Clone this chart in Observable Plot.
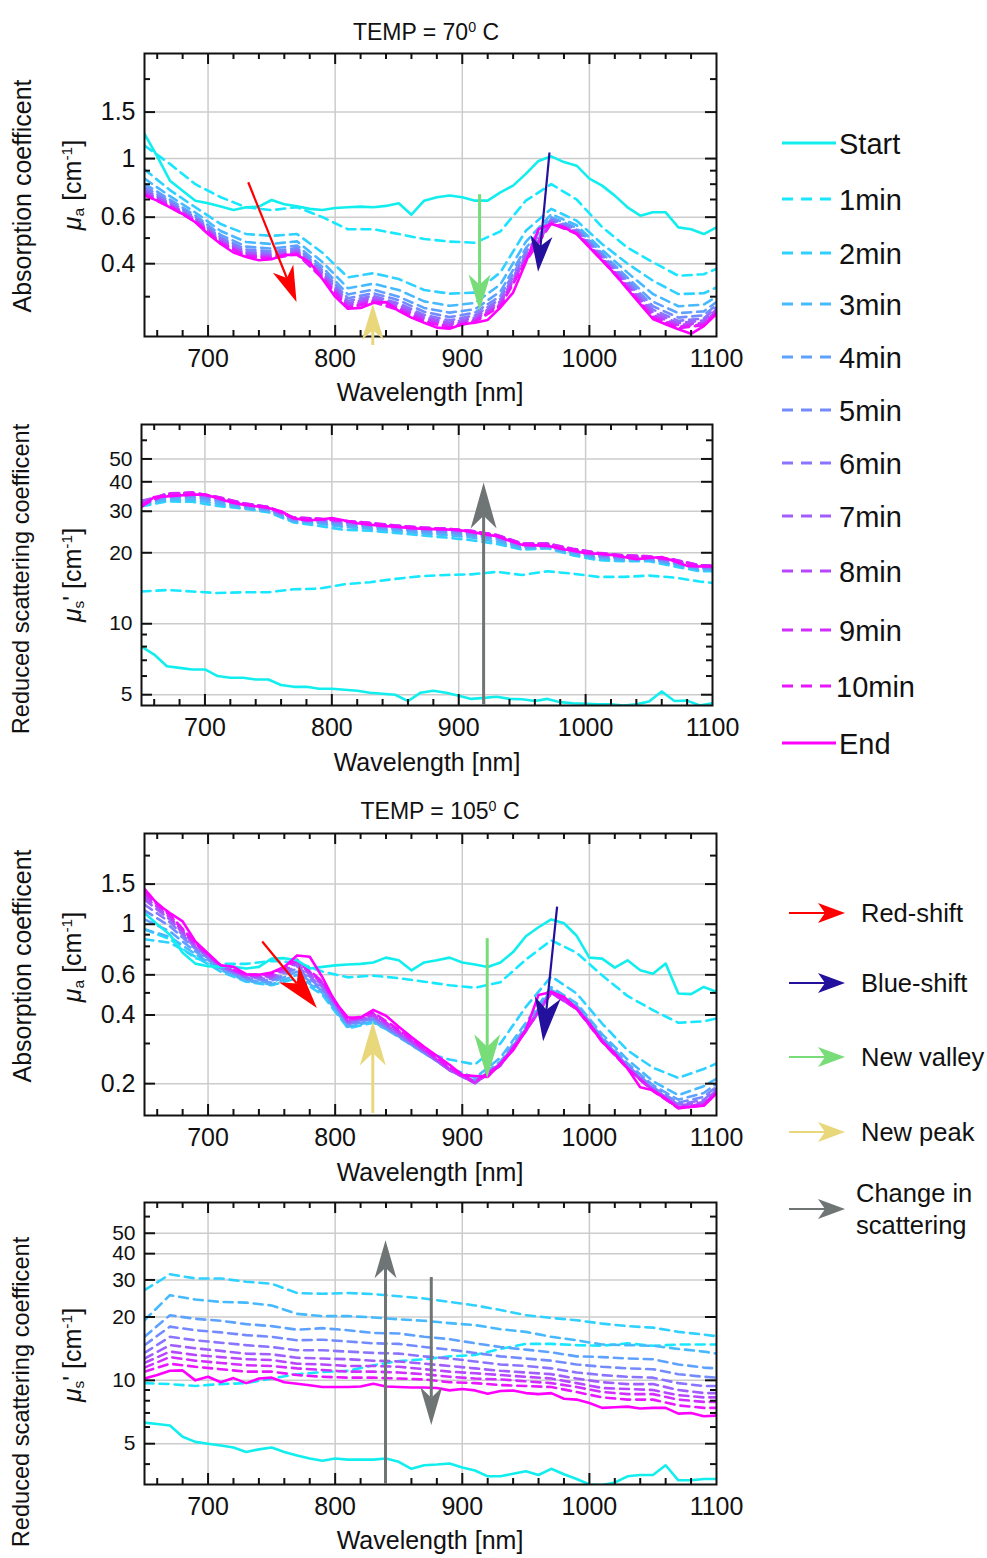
<!DOCTYPE html>
<html><head><meta charset="utf-8">
<script src="https://cdn.jsdelivr.net/npm/d3@7"></script>
<script src="https://cdn.jsdelivr.net/npm/@observablehq/plot@0.6"></script>
<style>
body{margin:0;background:#fff;font-family:Arial,"Liberation Sans",sans-serif;}
#root{position:relative;width:987px;height:1558px;overflow:hidden;background:#fff;}
.abs{position:absolute;white-space:nowrap;color:#111;line-height:1;}
.ctr{transform:translate(-50%,-50%);}
.rot{transform:translate(-50%,-50%) rotate(-90deg);}
.vc{transform:translateY(-50%);}
sup{font-size:62%;vertical-align:0.55em;line-height:0;}
sub{font-size:62%;vertical-align:-0.25em;line-height:0;}
</style></head><body><div id="root"></div>
<script>
// ---------------- data ----------------
const wlFine = [650,660,670,680,690,700,710,720,730,740,750,760,770,780,790,800,810,820,830,840,850,860,870,880,890,900,910,920,930,940,950,960,970,980,990,1000,1010,1020,1030,1040,1050,1060,1070,1080,1090,1100];
const wlCoarse = [650,670,690,710,730,750,770,790,810,830,850,870,890,910,930,950,970,990,1010,1030,1050,1070,1090,1100];
const seriesNames = ["Start","1min","2min","3min","4min","5min","6min","7min","8min","9min","10min","End"];
const seriesColors = ["#12eeee","#17e8ff","#2ed1ff","#46b9ff","#5da2ff","#748bff","#8b74ff","#a25dff","#b946ff","#d12eff","#e817ff","#ff00ff"];
const xTickLabels = [700,800,900,1000,1100];
const xGrid = [700,800,900,1000];
const xMinor = [660,680,720,740,760,780,820,840,860,880,920,940,960,980,1020,1040,1060,1080];

// Panel 1: absorption, 70 C
const abs70YTicks = [0.4,0.6,1,1.5];
const abs70YMinor = [0.3,0.5,0.7,0.8,0.9,2];
const abs70Start = [1.24,1.02,0.825,0.756,0.693,0.677,0.658,0.639,0.654,0.658,0.697,0.672,0.66,0.645,0.639,0.65,0.654,0.658,0.654,0.662,0.677,0.613,0.693,0.714,0.725,0.714,0.693,0.693,0.745,0.79,0.875,0.98,1.02,0.97,0.94,0.84,0.79,0.724,0.654,0.608,0.626,0.626,0.549,0.54,0.518,0.549];
const abs70End = [0.724,0.693,0.654,0.617,0.574,0.518,0.475,0.441,0.424,0.412,0.416,0.432,0.432,0.405,0.35,0.30,0.27,0.272,0.284,0.286,0.265,0.25,0.239,0.229,0.227,0.236,0.239,0.245,0.273,0.311,0.405,0.54,0.565,0.549,0.518,0.461,0.411,0.366,0.32,0.281,0.247,0.236,0.226,0.217,0.232,0.258];
const abs70Dashed = [
 [1.12,0.955,0.80,0.714,0.654,0.638,0.655,0.60,0.54,0.54,0.518,0.496,0.485,0.48,0.53,0.693,0.80,0.70,0.55,0.46,0.405,0.36,0.365,0.382],
 [0.91,0.76,0.654,0.565,0.518,0.51,0.518,0.44,0.355,0.368,0.35,0.318,0.308,0.311,0.371,0.533,0.645,0.582,0.475,0.40,0.345,0.307,0.309,0.325],
 [0.840,0.721,0.625,0.532,0.483,0.475,0.486,0.406,0.323,0.336,0.318,0.288,0.277,0.284,0.334,0.484,0.616,0.559,0.451,0.370,0.307,0.276,0.280,0.300],
 [0.803,0.699,0.609,0.514,0.464,0.456,0.469,0.388,0.306,0.319,0.300,0.272,0.261,0.269,0.314,0.458,0.600,0.546,0.438,0.354,0.287,0.260,0.264,0.286],
 [0.781,0.687,0.600,0.503,0.453,0.445,0.459,0.378,0.296,0.309,0.291,0.263,0.251,0.261,0.302,0.443,0.591,0.538,0.431,0.345,0.276,0.250,0.255,0.279],
 [0.765,0.677,0.592,0.496,0.445,0.437,0.451,0.370,0.289,0.302,0.283,0.256,0.244,0.255,0.294,0.432,0.584,0.533,0.426,0.338,0.268,0.243,0.248,0.273],
 [0.753,0.671,0.587,0.489,0.439,0.430,0.446,0.364,0.283,0.297,0.278,0.251,0.239,0.250,0.288,0.424,0.578,0.528,0.421,0.332,0.262,0.238,0.244,0.268],
 [0.742,0.665,0.583,0.484,0.434,0.425,0.441,0.359,0.278,0.292,0.273,0.247,0.235,0.246,0.283,0.417,0.573,0.524,0.418,0.328,0.256,0.234,0.239,0.265],
 [0.734,0.659,0.579,0.480,0.429,0.421,0.437,0.355,0.274,0.289,0.270,0.243,0.231,0.243,0.279,0.411,0.570,0.521,0.415,0.324,0.252,0.231,0.236,0.262],
 [0.729,0.657,0.577,0.478,0.427,0.418,0.435,0.352,0.272,0.286,0.267,0.241,0.229,0.241,0.276,0.408,0.568,0.520,0.413,0.322,0.249,0.228,0.234,0.260]
];
const abs70Arrows = [
 {kind:"red", x1:732, y1:0.81, x2:770, y2:0.285},
 {kind:"yellow", x1:830, y1:0.196, x2:830, y2:0.28},
 {kind:"green", x1:914, y1:0.73, x2:914, y2:0.265},
 {kind:"blue", x1:969, y1:1.05, x2:960, y2:0.371}
];

// Panel 2: reduced scattering, 70 C
const sca70YTicks = [5,10,20,30,40,50];
const sca70YMinor = [6,7,8,9,60];
const sca70Start = [8.0,7.4,6.6,6.5,6.4,6.4,6.0,5.9,5.9,5.8,5.8,5.5,5.4,5.4,5.3,5.3,5.25,5.2,5.1,5.05,5.0,4.7,5.1,5.2,5.1,4.95,4.8,4.85,4.9,4.8,4.78,4.7,4.8,4.65,4.6,4.58,4.55,4.55,4.5,4.55,4.68,5.16,4.7,4.72,4.5,4.6];
const sca70End = [31.3,34.5,34.7,35.0,35.3,35.3,34.1,32.8,32.0,31.5,31.0,30.0,28.0,27.4,27.6,28.1,27.4,26.7,26.3,26.0,25.8,25.5,25.3,25.2,25.1,25.0,24.5,24.0,23.5,22.5,21.6,21.5,21.4,20.8,20.4,19.9,19.8,19.6,19.2,18.8,19.0,19.2,18.4,17.6,17.5,17.5];
const sca70Dashed = [
 [13.7,13.9,13.7,13.5,13.6,13.6,14.0,14.1,14.7,15.0,15.5,15.9,16.1,16.2,16.6,16.1,16.7,16.3,15.8,15.8,16.0,15.7,15.1,14.9],
 [31.5,33.0,32.9,31.6,30.8,29.7,26.9,26.0,25.0,24.8,24.3,23.7,23.2,22.6,21.8,20.6,20.9,19.5,18.6,18.4,18.4,17.5,16.7,16.7],
 [32.0,33.6,33.6,32.3,31.0,30.0,27.2,26.6,25.7,25.3,24.8,24.2,23.8,23.2,22.3,20.9,21.0,19.8,18.9,18.6,18.6,17.8,16.9,16.9],
 [32.4,34.2,34.4,33.0,31.4,30.3,27.4,26.9,26.2,25.7,25.2,24.6,24.3,23.7,22.8,21.1,21.2,20.0,19.2,18.8,18.8,18.0,17.1,17.1],
 [32.8,34.8,35.0,33.6,31.8,30.6,27.7,27.3,26.6,26.1,25.5,25.0,24.7,24.1,23.2,21.4,21.4,20.2,19.4,19.0,18.9,18.2,17.3,17.2],
 [33.2,35.2,35.5,34.0,32.1,30.9,27.9,27.6,26.9,26.4,25.8,25.3,25.0,24.4,23.5,21.6,21.6,20.4,19.6,19.2,19.1,18.4,17.5,17.4],
 [33.0,35.5,35.8,34.3,32.3,31.2,28.1,27.8,27.2,26.6,26.0,25.5,25.2,24.6,23.7,21.8,21.8,20.6,19.8,19.4,19.2,18.6,17.6,17.5],
 [32.6,35.7,36.0,34.5,32.5,31.3,28.2,27.9,27.3,26.7,26.1,25.6,25.3,24.7,23.8,21.9,21.9,20.7,19.9,19.5,19.3,18.7,17.7,17.6],
 [32.2,35.6,36.0,34.5,32.4,31.3,28.2,27.9,27.3,26.8,26.1,25.6,25.3,24.8,23.8,21.9,21.9,20.8,20.0,19.5,19.3,18.7,17.7,17.6],
 [31.8,35.4,35.9,34.4,32.3,31.2,28.1,27.8,27.3,26.7,26.0,25.5,25.2,24.7,23.7,21.8,21.7,20.7,19.9,19.4,19.2,18.6,17.6,17.6]
];
const sca70Arrows = [
 {kind:"gray", x1:920, y1:4.5, x2:920, y2:39.5}
];

// Panel 3: absorption, 105 C
const abs105YTicks = [0.2,0.4,0.6,1,1.5];
const abs105YMinor = [0.3,0.5,0.7,0.8,0.9,2];
const abs105Start = [1.12,1.0,0.9,0.75,0.672,0.655,0.65,0.65,0.64,0.65,0.707,0.71,0.695,0.64,0.65,0.66,0.666,0.67,0.68,0.714,0.695,0.628,0.68,0.695,0.714,0.68,0.666,0.65,0.68,0.755,0.886,0.97,1.05,1.01,0.89,0.714,0.707,0.645,0.695,0.628,0.607,0.672,0.497,0.494,0.531,0.505];
const abs105End = [1.43,1.23,1.12,1.03,0.84,0.744,0.66,0.65,0.604,0.6,0.614,0.65,0.73,0.72,0.585,0.456,0.39,0.39,0.421,0.397,0.355,0.32,0.29,0.265,0.242,0.218,0.216,0.214,0.245,0.28,0.343,0.49,0.505,0.48,0.425,0.367,0.305,0.271,0.233,0.193,0.187,0.172,0.156,0.158,0.16,0.181];
const abs105Dashed = [
 [0.95,0.86,0.71,0.67,0.67,0.69,0.68,0.62,0.585,0.595,0.58,0.56,0.54,0.527,0.557,0.70,0.85,0.75,0.597,0.485,0.42,0.37,0.375,0.386],
 [0.86,0.83,0.72,0.62,0.56,0.54,0.58,0.49,0.35,0.37,0.325,0.275,0.255,0.243,0.30,0.434,0.59,0.497,0.367,0.28,0.235,0.212,0.232,0.245],
 [0.95,0.88,0.74,0.63,0.565,0.545,0.60,0.50,0.355,0.375,0.32,0.272,0.235,0.212,0.26,0.37,0.53,0.45,0.33,0.255,0.205,0.178,0.195,0.21],
 [1.05,0.93,0.76,0.64,0.57,0.555,0.62,0.51,0.36,0.38,0.322,0.272,0.232,0.207,0.25,0.355,0.515,0.44,0.32,0.245,0.197,0.17,0.182,0.20],
 [1.15,0.98,0.78,0.645,0.58,0.565,0.64,0.52,0.365,0.385,0.325,0.274,0.23,0.204,0.245,0.348,0.51,0.435,0.315,0.24,0.193,0.165,0.175,0.194],
 [1.22,1.02,0.79,0.65,0.585,0.575,0.655,0.53,0.37,0.39,0.328,0.276,0.229,0.202,0.242,0.343,0.505,0.43,0.312,0.237,0.19,0.162,0.17,0.19],
 [1.28,1.05,0.80,0.655,0.59,0.585,0.67,0.54,0.372,0.395,0.332,0.278,0.229,0.201,0.24,0.34,0.50,0.428,0.31,0.235,0.188,0.16,0.166,0.187],
 [1.32,1.07,0.81,0.66,0.595,0.59,0.68,0.55,0.375,0.40,0.336,0.28,0.23,0.201,0.24,0.34,0.50,0.426,0.308,0.234,0.187,0.158,0.163,0.185],
 [1.36,1.09,0.82,0.66,0.60,0.60,0.69,0.555,0.378,0.405,0.34,0.282,0.232,0.202,0.241,0.34,0.50,0.425,0.306,0.233,0.186,0.157,0.162,0.183],
 [1.39,1.10,0.83,0.66,0.60,0.605,0.70,0.56,0.38,0.41,0.345,0.285,0.235,0.204,0.243,0.342,0.502,0.425,0.306,0.233,0.186,0.156,0.161,0.182]
];
const abs105Arrows = [
 {kind:"red", x1:743, y1:0.836, x2:786, y2:0.427},
 {kind:"yellow", x1:830, y1:0.148, x2:830, y2:0.373},
 {kind:"green", x1:920, y1:0.865, x2:920, y2:0.21},
 {kind:"blue", x1:975, y1:1.19, x2:964, y2:0.305}
];

// Panel 4: reduced scattering, 105 C
const sca105YTicks = [5,10,20,30,40,50];
const sca105YMinor = [4,6,7,8,9,60];
const sca105Start = [6.3,6.2,6.1,5.4,5.1,5.0,4.9,4.8,4.57,4.7,4.8,4.57,4.4,4.25,4.15,4.25,4.2,4.2,4.2,4.25,4.1,3.8,3.95,3.98,4.03,3.85,3.73,3.5,3.5,3.6,3.7,3.55,3.8,3.58,3.4,3.2,3.18,3.27,3.5,3.55,3.55,3.95,3.35,3.35,3.4,3.4];
const sca105End = [10.2,10.6,11.1,11.15,10.0,10.4,9.8,10.25,9.7,10.2,10.3,9.8,9.64,9.47,9.3,9.3,9.3,9.35,9.64,9.35,9.3,9.25,9.25,9.2,8.96,9.1,8.96,8.64,8.9,8.95,8.7,8.6,8.7,8.18,8.1,7.8,7.4,7.45,7.5,7.35,7.4,7.4,6.95,7.0,6.75,6.8];
const sca105Dashed = [
 [9.7,9.6,9.4,9.6,9.7,10.2,10.7,10.95,11.1,11.8,12.35,12.6,13.0,13.2,14.1,14.9,14.9,14.7,14.6,15.0,14.6,14.8,14.8,14.8],
 [26.8,31.9,30.5,30.5,29.4,28.8,26.0,25.8,26.0,25.7,25.1,24.5,23.6,22.7,21.6,20.4,19.8,19.3,18.6,18.1,17.8,17.0,16.5,16.2],
 [19.3,25.4,24.2,23.6,23.4,22.7,20.7,20.2,20.2,19.9,19.5,19.2,18.7,18.3,17.5,17.0,16.1,15.5,14.8,14.7,14.6,14.1,13.7,13.4],
 [16.1,20.4,19.6,19.2,18.5,18.1,17.4,17.7,17.3,16.8,16.7,16.1,15.7,15.0,14.4,14.0,13.6,13.0,12.9,12.7,12.6,11.9,11.5,11.4],
 [14.7,18.0,17.3,16.9,16.4,16.1,15.5,15.6,15.3,15.0,14.9,14.4,14.0,13.5,13.0,12.7,12.4,11.9,11.6,11.4,11.3,10.7,10.4,10.3],
 [13.5,16.1,15.5,15.1,14.7,14.4,13.9,13.9,13.7,13.5,13.4,13.0,12.7,12.3,11.9,11.7,11.4,10.9,10.6,10.4,10.3,9.7,9.4,9.4],
 [12.7,14.7,14.2,13.8,13.4,13.3,12.8,12.7,12.6,12.4,12.3,12.0,11.7,11.4,11.1,10.9,10.7,10.2,9.8,9.6,9.6,9.0,8.7,8.7],
 [12.1,13.7,13.2,12.9,12.6,12.5,12.0,11.9,11.7,11.7,11.6,11.3,11.0,10.8,10.6,10.4,10.2,9.7,9.2,9.1,9.0,8.5,8.3,8.3],
 [11.5,12.9,12.4,12.1,11.8,11.7,11.4,11.2,11.0,11.0,10.9,10.7,10.4,10.2,10.1,9.9,9.7,9.3,8.8,8.6,8.6,8.1,7.9,7.9],
 [11.0,12.0,11.6,11.3,11.0,11.0,10.6,10.4,10.3,10.3,10.2,10.1,9.8,9.7,9.5,9.4,9.3,8.8,8.3,8.1,8.1,7.6,7.4,7.4]
];
const sca105Arrows = [
 {kind:"gray", x1:840, y1:3.2, x2:840, y2:46},
 {kind:"gray", x1:876, y1:30.8, x2:876, y2:6.1}
];

const arrowKinds = ["red","blue","green","yellow","gray"];
const arrowLabels = ["Red-shift","Blue-shift","New valley","New peak","Change in\nscattering"];
const arrowColors = {red:"#ff0000", blue:"#23109c", green:"#78dc78", yellow:"#e9d77c", gray:"#6f7474"};

// ---------------- drawing ----------------
const root = document.getElementById("root");
const FONT = "Arial, 'Liberation Sans', sans-serif";

function addDiv(html, left, top, cls, style) {
  const d = document.createElement("div");
  d.className = "abs " + cls;
  d.innerHTML = html;
  d.style.left = left + "px";
  d.style.top = top + "px";
  Object.assign(d.style, style || {});
  root.appendChild(d);
  return d;
}

function panel(cfg) {
  const {L, R, T, B, domain, yTicks, yMinor, start, end, dashed, arrows, head, yFont} = cfg;
  const H = B - T, W = R - L;
  const mt = 20, mb = 50, mr = 40;
  const lines = [];
  dashed.forEach((vals, k) => {
    lines.push(Plot.line(wlCoarse.map((w, i) => ({w, v: vals[i]})), {
      x: "w", y: "v", stroke: seriesColors[k + 1], strokeWidth: 2.6,
      strokeDasharray: "9,6", clip: true
    }));
  });
  lines.push(Plot.line(wlFine.map((w, i) => ({w, v: start[i]})), {x: "w", y: "v", stroke: seriesColors[0], strokeWidth: 2.6, clip: true}));
  lines.push(Plot.line(wlFine.map((w, i) => ({w, v: end[i]})), {x: "w", y: "v", stroke: seriesColors[11], strokeWidth: 2.6, clip: true}));

  const tk = (xs, ys, len) => [
    Plot.tickX(xs, {x: d => d, insetTop: H - len, stroke: "#111", strokeWidth: 2}),
    Plot.tickX(xs, {x: d => d, insetBottom: H - len, stroke: "#111", strokeWidth: 2}),
    Plot.tickY(ys, {y: d => d, insetRight: W - len, stroke: "#111", strokeWidth: 2}),
    Plot.tickY(ys, {y: d => d, insetLeft: W - len, stroke: "#111", strokeWidth: 2})
  ];

  const arrowMark = (index, scales) => {
    const g = d3.create("svg:g");
    for (const a of arrows) {
      const x1 = scales.x(a.x1), y1 = scales.y(a.y1), x2 = scales.x(a.x2), y2 = scales.y(a.y2);
      const ang = Math.atan2(y2 - y1, x2 - x1);
      const col = arrowColors[a.kind];
      const notch = head.len * 0.72;
      g.append("line")
        .attr("x1", x1).attr("y1", y1)
        .attr("x2", x2 - notch * Math.cos(ang)).attr("y2", y2 - notch * Math.sin(ang))
        .attr("stroke", col).attr("stroke-width", a.kind === "red" || a.kind === "blue" ? 2.2 : 3);
      g.append("path")
        .attr("d", `M0,0L${-head.len},${-head.wid / 2}L${-notch},0L${-head.len},${head.wid / 2}Z`)
        .attr("transform", `translate(${x2},${y2}) rotate(${ang * 180 / Math.PI})`)
        .attr("fill", col);
    }
    return g.node();
  };

  const p = Plot.plot({
    width: R + mr, height: H + mt + mb,
    marginLeft: L, marginRight: mr, marginTop: mt, marginBottom: mb,
    style: {background: "transparent", fontSize: "25px", fontFamily: FONT, color: "#111", overflow: "visible"},
    x: {domain: [650, 1100], ticks: xTickLabels, tickSize: 0, tickPadding: 13, label: null, tickFormat: d => String(d)},
    y: {type: "log", domain, ticks: yTicks, tickSize: 0, tickPadding: 9, label: null, tickFormat: d => String(d)},
    marks: [
      Plot.ruleX(xGrid, {x: d => d, stroke: "#cccccc", strokeWidth: 1.5}),
      Plot.ruleY(yTicks, {y: d => d, stroke: "#cccccc", strokeWidth: 1.5}),
      ...lines,
      ...tk(xGrid, yTicks, 11),
      ...tk(xMinor, yMinor, 6),
      Plot.frame({stroke: "#111", strokeWidth: 2}),
      arrowMark
    ]
  });
  if (yFont) {
    d3.select(p).selectAll('[aria-label="y-axis tick label"], [aria-label="y-axis"]')
      .style("font-size", yFont);
  }
  p.style.position = "absolute";
  p.style.left = "0px";
  p.style.top = (T - mt) + "px";
  root.appendChild(p);
}

panel({L:144, R:716, T:53, B:336, domain:[0.212, 2.5], yTicks:abs70YTicks, yMinor:abs70YMinor,
  start:abs70Start, end:abs70End, dashed:abs70Dashed, arrows:abs70Arrows, head:{len:36, wid:22}});
panel({L:141, R:712, T:424, B:705, domain:[4.5, 70], yTicks:sca70YTicks, yMinor:sca70YMinor,
  start:sca70Start, end:sca70End, dashed:sca70Dashed, arrows:sca70Arrows, head:{len:46, wid:26}, yFont:"21px"});
panel({L:144, R:716, T:833, B:1115, domain:[0.145, 2.5], yTicks:abs105YTicks, yMinor:abs105YMinor,
  start:abs105Start, end:abs105End, dashed:abs105Dashed, arrows:abs105Arrows, head:{len:44, wid:26}});
panel({L:144, R:716, T:1202, B:1484, domain:[3.2, 70], yTicks:sca105YTicks, yMinor:sca105YMinor,
  start:sca105Start, end:sca105End, dashed:sca105Dashed, arrows:sca105Arrows, head:{len:38, wid:22}, yFont:"21px"});

// titles and axis labels
addDiv("TEMP = 70<sup>0</sup> C", 426, 32, "ctr", {fontSize:"23px"});
addDiv("TEMP = 105<sup>0</sup> C", 440, 811, "ctr", {fontSize:"23px"});
[[430,392],[427,762],[430,1172],[430,1540]].forEach(([x,y]) => addDiv("Wavelength [nm]", x, y, "ctr", {fontSize:"25px"}));
addDiv("Absorption coefficent", 22, 196, "rot", {fontSize:"25px"});
addDiv("<i>μ</i><sub>a</sub> [cm<sup>-1</sup>]", 72, 185, "rot", {fontSize:"25px"});
addDiv("Reduced scattering coefficent", 22, 579, "rot", {fontSize:"23.6px"});
addDiv("<i>μ</i><sub>s</sub>' [cm<sup>-1</sup>]", 72, 575, "rot", {fontSize:"25px"});
addDiv("Absorption coefficent", 22, 966, "rot", {fontSize:"25px"});
addDiv("<i>μ</i><sub>a</sub> [cm<sup>-1</sup>]", 72, 957, "rot", {fontSize:"25px"});
addDiv("Reduced scattering coefficent", 22, 1392, "rot", {fontSize:"23.6px"});
addDiv("<i>μ</i><sub>s</sub>' [cm<sup>-1</sup>]", 72, 1355, "rot", {fontSize:"25px"});

// series legend
const legendRows = [143,199,253,304,357,410,463,516,571,630,686,743];
seriesNames.forEach((name, i) => {
  const y = legendRows[i];
  const svg = d3.create("svg").attr("width", 60).attr("height", 10)
    .style("position", "absolute").style("left", "780px").style("top", (y - 5) + "px");
  svg.append("line").attr("x1", 2).attr("x2", 56).attr("y1", 5).attr("y2", 5)
    .attr("stroke", seriesColors[i]).attr("stroke-width", 3)
    .attr("stroke-dasharray", (i === 0 || i === 11) ? null : "11,8");
  root.appendChild(svg.node());
  addDiv(name, i === 10 ? 836 : 839, y + 1, "vc", {fontSize:"29px"});
});

// arrow legend
const arrowRows = [913,983,1057,1132,1209];
arrowKinds.forEach((k, i) => {
  const y = arrowRows[i];
  const col = arrowColors[k];
  const svg = d3.create("svg").attr("width", 70).attr("height", 24)
    .style("position", "absolute").style("left", "785px").style("top", (y - 12) + "px");
  svg.append("line").attr("x1", 4).attr("x2", 44).attr("y1", 12).attr("y2", 12)
    .attr("stroke", col).attr("stroke-width", 2.2);
  svg.append("path").attr("d", "M60,12L33,2L40,12L33,22Z").attr("fill", col);
  root.appendChild(svg.node());
  const lbl = arrowLabels[i].split("\n");
  if (lbl.length === 1) addDiv(lbl[0], 861, y + 1, "vc", {fontSize:"25.5px"});
  else { addDiv(lbl[0], 856, 1194, "vc", {fontSize:"25.5px"}); addDiv(lbl[1], 856, 1226, "vc", {fontSize:"25.5px"}); }
});
</script></body></html>
